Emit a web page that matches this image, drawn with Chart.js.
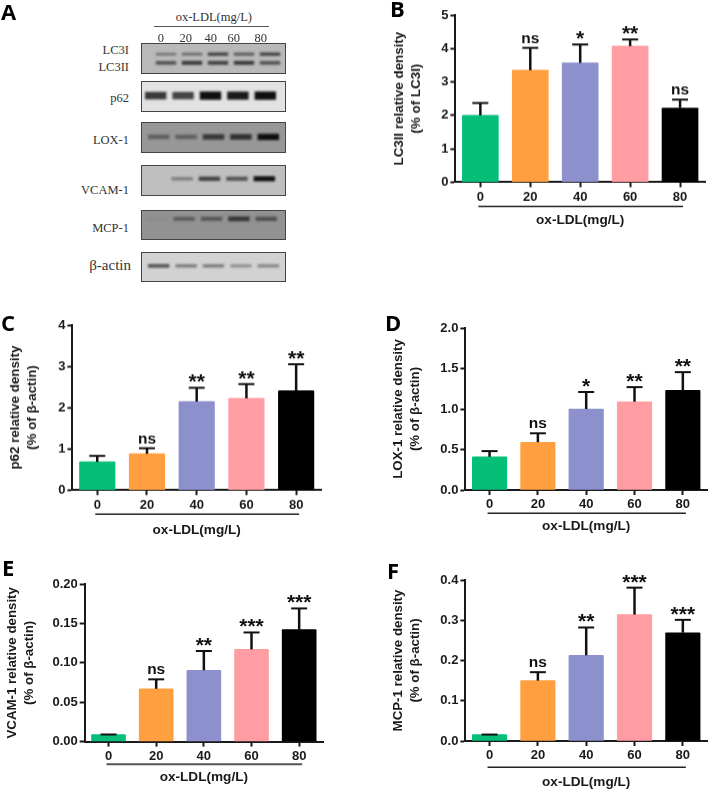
<!DOCTYPE html>
<html>
<head>
<meta charset="utf-8">
<script src="https://cdn.jsdelivr.net/npm/chart.js@4"></script>
<style>
  html, body { margin: 0; padding: 0; background: #fff; }
  #page { position: relative; width: 709px; height: 789px; overflow: hidden; background: #fff; }
  #page canvas { position: absolute; filter: blur(0.3px); }
  .letter { position: absolute; font: bold 22px "Open Sans", sans-serif; line-height: 22px; color: #000; }
  .blotText { position: absolute; font-family: "Liberation Serif", serif; font-size: 12.5px; line-height: 14px; color: #333; white-space: nowrap; }
  .strip { position: absolute; left: 141px; width: 145px; box-sizing: border-box; border: 1px solid #444; overflow: hidden; }
  #page .strip canvas { filter: blur(1.1px); top: 0; }
</style>
</head>
<body>
<div id="page"></div>
<script>
// ox-LDL doses, same for every panel
const doses = ["0", "20", "40", "60", "80"];
const barColors = ["#05BE78", "#FF9F40", "#8C90CC", "#FF9DA3", "#000000"];

// bar heights, top of error bar and significance marks
const lc3Means = [2.0, 3.35, 3.57, 4.07, 2.22];
const lc3Upper = [2.37, 4.02, 4.12, 4.27, 2.47];
const lc3Marks = ["", "ns", "*", "**", "ns"];

const p62Means = [0.685, 0.88, 2.145, 2.225, 2.41];
const p62Upper = [0.83, 1.015, 2.48, 2.57, 3.05];
const p62Marks = ["", "ns", "**", "**", "**"];

const loxMeans = [0.41, 0.59, 1.0, 1.09, 1.23];
const loxUpper = [0.48, 0.70, 1.21, 1.27, 1.455];
const loxMarks = ["", "ns", "*", "**", "**"];

const vcamMeans = [0.009, 0.067, 0.0905, 0.117, 0.142];
const vcamUpper = [0.009, 0.079, 0.115, 0.1385, 0.169];
const vcamMarks = ["", "ns", "**", "***", "***"];

const mcpMeans = [0.016, 0.15, 0.213, 0.314, 0.269];
const mcpUpper = [0.016, 0.171, 0.282, 0.381, 0.301];
const mcpMarks = ["", "ns", "**", "***", "***"];

// band darkness per lane in the blots of panel A (0 = no band, 1 = black)
const lc3iBands = [0.4, 0.45, 0.7, 0.55, 0.7];
const lc3iiBands = [0.6, 0.75, 0.7, 0.75, 0.6];
const p62Bands = [0.8, 0.75, 1, 0.95, 1];
const loxBands = [0.4, 0.4, 0.7, 0.75, 1];
const vcamBands = [0, 0.35, 0.7, 0.6, 1];
const mcpBands = [0.05, 0.4, 0.45, 0.7, 0.5];
const actinBands = [0.65, 0.45, 0.45, 0.35, 0.4];

const page = document.getElementById("page");
const ink = "#1a1a1a";
const sansFont = '"Liberation Sans", Arial, sans-serif';

function addCanvas(parent, left, top, width, height) {
    const canvas = document.createElement("canvas");
    canvas.width = width;
    canvas.height = height;
    canvas.style.left = left + "px";
    canvas.style.top = top + "px";
    canvas.style.width = width + "px";
    canvas.style.height = height + "px";
    parent.appendChild(canvas);
    return canvas;
}

// Draws error bars, significance marks and the line under the tick labels
const annotations = {
    id: "annotations",
    afterDatasetsDraw(chart, args, opts) {
        const { ctx, scales: { x, y } } = chart;
        ctx.save();
        ctx.strokeStyle = "#111";
        ctx.textAlign = "center";
        ctx.textBaseline = "alphabetic";
        doses.forEach((dose, i) => {
            const cx = x.getPixelForTick(i);
            const top = y.getPixelForValue(opts.upper[i]);
            const base = y.getPixelForValue(opts.means[i]);
            ctx.lineWidth = 2.5;
            ctx.beginPath();
            ctx.moveTo(cx, base);
            ctx.lineTo(cx, top);
            ctx.stroke();
            ctx.lineWidth = 2;
            ctx.beginPath();
            ctx.moveTo(cx - 8, top);
            ctx.lineTo(cx + 8, top);
            ctx.stroke();

            const mark = opts.marks[i];
            ctx.fillStyle = "#111";
            if (mark === "ns") {
                ctx.font = `bold 15.5px ${sansFont}`;
                ctx.fillText(mark, cx, top - 5);
            } else if (mark) {
                ctx.font = `bold 21px ${sansFont}`;
                ctx.fillText(mark, cx, top + 1);
            }
        });
        ctx.strokeStyle = opts.lineColor;
        ctx.lineWidth = opts.lineWidth;
        ctx.beginPath();
        ctx.moveTo(x.getPixelForTick(0) - 2, y.bottom + opts.lineGap);
        ctx.lineTo(x.getPixelForTick(doses.length - 1) + 3, y.bottom + opts.lineGap);
        ctx.stroke();
        ctx.restore();
    }
};

function barPanel(p) {
    const padTop = 12;
    const canvasLeft = p.titleCenter - 8.4;
    const canvas = addCanvas(page, canvasLeft, p.plotTop - padTop,
        Math.round(p.plotRight + 2 - canvasLeft), p.plotBottom + p.xTitleGap + 9 - p.plotTop + padTop);
    new Chart(canvas.getContext("2d"), {
        type: "bar",
        data: {
            labels: doses,
            datasets: [{
                data: p.means,
                backgroundColor: barColors,
                barThickness: p.barWidth,
                borderRadius: 1
            }]
        },
        plugins: [annotations],
        options: {
            responsive: false,
            animation: false,
            events: [],
            layout: { padding: { top: padTop, right: 2, left: 0, bottom: 0 } },
            plugins: {
                legend: { display: false },
                tooltip: { enabled: false },
                annotations: {
                    means: p.means,
                    upper: p.upper,
                    marks: p.marks,
                    lineGap: p.lineGap,
                    lineColor: p.lineColor || "#222",
                    lineWidth: p.lineThick || 1.5
                }
            },
            scales: {
                x: {
                    grid: { offset: false, drawOnChartArea: false, tickLength: 5, tickWidth: 2, tickColor: ink },
                    border: { color: ink, width: 2 },
                    ticks: { color: ink, padding: 2, maxRotation: 0, font: { family: sansFont, weight: "bold", size: 13 } },
                    title: {
                        display: true,
                        text: "ox-LDL(mg/L)",
                        color: ink,
                        padding: 0,
                        font: { family: sansFont, weight: "bold", size: 13.6, lineHeight: 1.2 }
                    },
                    afterFit(scale) { scale.height = p.xTitleGap + 9; }
                },
                y: {
                    min: 0,
                    max: p.max,
                    grid: { drawOnChartArea: false, tickLength: 5, tickWidth: 2, tickColor: ink },
                    border: { color: ink, width: 2 },
                    ticks: {
                        stepSize: p.step,
                        color: ink,
                        padding: 2,
                        font: { family: sansFont, weight: "bold", size: 13 },
                        callback: v => v.toFixed(p.digits)
                    },
                    title: {
                        display: true,
                        text: p.yTitle,
                        color: ink,
                        padding: 0,
                        font: { family: sansFont, weight: "bold", size: 13.3, lineHeight: 1.26 }
                    },
                    afterFit(scale) { scale.width = p.plotLeft - canvasLeft; }
                }
            }
        }
    });
}

// One blot strip: a small bar chart of floating bars, blurred by CSS
function blotStrip(s) {
    const strip = document.createElement("div");
    strip.className = "strip";
    strip.style.top = s.top + "px";
    strip.style.height = s.height + "px";
    strip.style.background = s.bg;
    page.appendChild(strip);
    const canvas = addCanvas(strip, s.shift, 0, s.width || 137, s.height - 2);
    new Chart(canvas.getContext("2d"), {
        type: "bar",
        data: {
            labels: doses,
            datasets: s.rows.map(row => ({
                data: row.bands.map(d => d > 0 ? [row.mid - row.half * (0.6 + d * 0.5), row.mid + row.half * (0.6 + d * 0.5)] : null),
                backgroundColor: row.bands.map(d => `rgba(15,15,15,${d})`),
                barPercentage: 0.78,
                categoryPercentage: 1,
                grouped: false
            }))
        },
        options: {
            responsive: false,
            animation: false,
            events: [],
            plugins: { legend: { display: false }, tooltip: { enabled: false } },
            scales: {
                x: { display: false },
                y: { display: false, min: 0, max: 100 }
            }
        }
    });
}

function blotLabel(text, right, centerY, size) {
    const el = document.createElement("div");
    el.className = "blotText";
    el.textContent = text;
    el.style.right = (709 - right) + "px";
    el.style.top = (centerY - 7) + "px";
    if (size) el.style.fontSize = size + "px";
    page.appendChild(el);
}

function letter(text, left, top) {
    const el = document.createElement("div");
    el.className = "letter";
    el.textContent = text;
    el.style.left = left + "px";
    el.style.top = top + "px";
    page.appendChild(el);
}

// Panel A
blotStrip({ top: 43, height: 31, bg: "#b9b9b9", shift: 11, width: 130, rows: [
    { bands: lc3iBands, mid: 65, half: 6 },
    { bands: lc3iiBands, mid: 35, half: 7 }
] });
blotStrip({ top: 81, height: 31, bg: "#e2e2e2", shift: 0, rows: [{ bands: p62Bands, mid: 53, half: 13 }] });
blotStrip({ top: 122, height: 31, bg: "#979797", shift: 3, rows: [{ bands: loxBands, mid: 52, half: 10 }] });
blotStrip({ top: 165, height: 31, bg: "#bfbfbf", shift: -1, rows: [{ bands: vcamBands, mid: 56, half: 8 }] });
blotStrip({ top: 210, height: 30, bg: "#929292", shift: 1, rows: [{ bands: mcpBands, mid: 72, half: 9 }] });
blotStrip({ top: 252, height: 30, bg: "#d2d2d2", shift: 3, rows: [{ bands: actinBands, mid: 54, half: 7 }] });

blotLabel("LC3I", 129, 50);
blotLabel("LC3II", 129, 66.5);
blotLabel("p62", 129, 98);
blotLabel("LOX-1", 129, 140);
blotLabel("VCAM-1", 129, 190);
blotLabel("MCP-1", 129, 227.5);
blotLabel("β-actin", 131, 265, 15);

blotLabel("ox-LDL(mg/L)", 252, 16.5);
doses.forEach((dose, i) => {
    blotLabel(dose, [164, 192, 217, 240, 267][i], 37.5);
});
const doseRule = document.createElement("div");
doseRule.style.cssText = "position:absolute;left:154px;top:26px;width:115px;height:1px;background:#555";
page.appendChild(doseRule);

// Panels B-F
barPanel({ means: lc3Means, upper: lc3Upper, marks: lc3Marks, max: 5, step: 1, digits: 0,
    yTitle: ["LC3II relative density", "(% of LC3I)"], titleCenter: 399,
    plotLeft: 455, plotRight: 705, plotTop: 15, plotBottom: 182, barWidth: 36, lineGap: 24, xTitleGap: 36.6 });
barPanel({ means: p62Means, upper: p62Upper, marks: p62Marks, max: 4, step: 1, digits: 0,
    yTitle: ["p62 relative density", "(% of β-actin)"], titleCenter: 15,
    plotLeft: 72, plotRight: 321, plotTop: 325, plotBottom: 490, barWidth: 35.5, lineGap: 24, xTitleGap: 38.7 });
barPanel({ means: loxMeans, upper: loxUpper, marks: loxMarks, max: 2, step: 0.5, digits: 1,
    yTitle: ["LOX-1 relative density", "(% of β-actin)"], titleCenter: 398,
    plotLeft: 465, plotRight: 707, plotTop: 328, plotBottom: 490, barWidth: 34.5, lineGap: 23.3, xTitleGap: 35 });
barPanel({ means: vcamMeans, upper: vcamUpper, marks: vcamMarks, max: 0.2, step: 0.05, digits: 2,
    yTitle: ["VCAM-1 relative density", "(% of β-actin)"], titleCenter: 12.7,
    plotLeft: 85, plotRight: 323, plotTop: 584, plotBottom: 742, barWidth: 34, lineGap: 22.7, xTitleGap: 34.4,
    lineColor: "#555", lineThick: 2 });
barPanel({ means: mcpMeans, upper: mcpUpper, marks: mcpMarks, max: 0.4, step: 0.1, digits: 1,
    yTitle: ["MCP-1 relative density", "(% of β-actin)"], titleCenter: 398,
    plotLeft: 465, plotRight: 707, plotTop: 580, plotBottom: 741, barWidth: 34.5, lineGap: 26.3, xTitleGap: 40 });

letter("A", 1, 0);
letter("B", 390, -3);
letter("C", 1, 311);
letter("D", 385, 311);
letter("E", 2, 556);
letter("F", 387, 559);
</script>
</body>
</html>
